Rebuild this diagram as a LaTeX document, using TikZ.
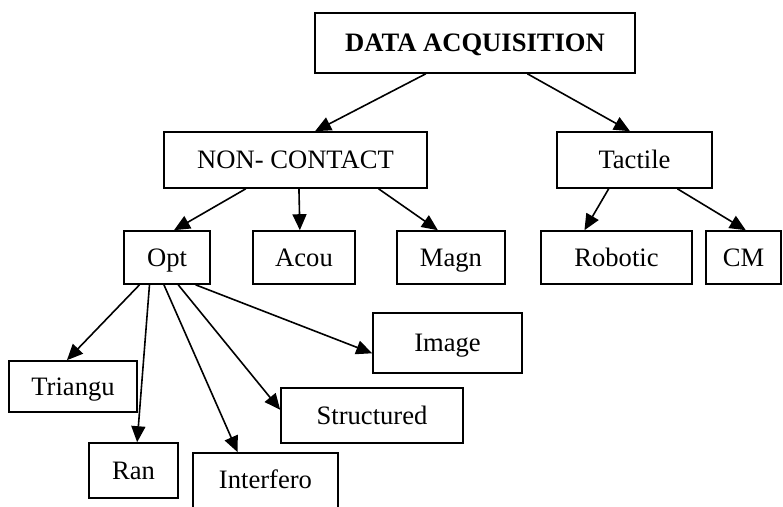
\documentclass[tikz,border=0pt]{standalone}
\usepackage{fontspec}
\setmainfont{Liberation Serif}
\usetikzlibrary{
  positioning,
  calc,
  arrows.meta}
\tikzset{
  %% box : one method of acquisition
  box/.style={
    rectangle,
    draw=black,
    line width=1.6pt,
    minimum height=55pt,
    inner sep=0pt,
    text height=17.5pt,
    text depth=0pt,
    align=center
  },
  %% topbox : the root of the tree
  topbox/.style={
    box,
    minimum height=60pt,
    font=\bfseries
  },
  %% link : connection from parent to child
  link/.style={
    line width=1.6pt,
    -{Triangle[length=16pt, width=14pt]}
  }
}

\begin{document}
\begin{tikzpicture}
  [x=1pt,
  y=-1pt]
  \fontsize{26.6}{30}\selectfont

  \useasboundingbox (0, 0) rectangle (783, 506);
  \clip (0, 0) rectangle (783, 506);

  %% Top level
  \node (daq) [topbox, minimum width=320pt] at (475, 43) {%
    DATA ACQUISITION};

  %% Second level
  \node (noncontact) [box, minimum width=263pt, minimum height=56pt]
  at (295.5, 160) {NON- CONTACT};
  \node (tactile) [box, minimum width=155pt, minimum height=56pt]
  at (634.5, 160) {Tactile};

  %% Third level
  \node (opt) [box, minimum width=86pt, minimum height=53pt]
  at (167, 257.5) {Opt};
  \node (acou) [box, minimum width=102pt, minimum height=53pt]
  at (304, 257.5) {Acou};
  \node (magn) [box, minimum width=108pt, minimum height=53pt]
  at (451, 257.5) {Magn};
  \node (robotic) [box, minimum width=151pt, minimum height=53pt]
  at (616.5, 257.5) {Robotic};
  \node (cm) [box, minimum width=75pt, minimum height=53pt]
  at (743.5, 257.5) {CM};

  %% Optical methods
  \node (image) [box, minimum width=149pt, minimum height=60pt]
  at (447.5, 343) {Image};
  \node (triangu) [box, minimum width=128pt, minimum height=51pt]
  at (73, 386.5) {Triangu};
  \node (structured) [box, minimum width=182pt]
  at (372, 415.5) {Structured};
  \node (ran) [box, minimum width=89pt]
  at (133.5, 470.5) {Ran};
  %% runs off the bottom of the page
  \node (interfero) [box, minimum width=145pt, minimum height=62pt,
  text depth=8pt] at (265.5, 484) {Interfero};

  %% Connections
  \draw [link] ($(daq.south west)!0.347!(daq.south east)$) --
  ($(noncontact.north west)!0.574!(noncontact.north east)$);
  \draw [link] ($(daq.south west)!0.663!(daq.south east)$) --
  ($(tactile.north west)!0.471!(tactile.north east)$);

  \draw [link] ($(noncontact.south west)!0.312!(noncontact.south east)$) --
  ($(opt.north west)!0.58!(opt.north east)$);
  \draw [link] ($(noncontact.south west)!0.513!(noncontact.south east)$) --
  ($(acou.north west)!0.46!(acou.north east)$);
  \draw [link] ($(noncontact.south west)!0.814!(noncontact.south east)$) --
  ($(magn.north west)!0.38!(magn.north east)$);

  \draw [link] ($(tactile.south west)!0.335!(tactile.south east)$) --
  ($(robotic.north west)!0.29!(robotic.north east)$);
  \draw [link] ($(tactile.south west)!0.774!(tactile.south east)$) --
  ($(cm.north west)!0.53!(cm.north east)$);

  %% Fan out of Opt
  \draw [link] ($(opt.south west)!0.186!(opt.south east)$) --
  ($(triangu.north west)!0.453!(triangu.north east)$);
  \draw [link] ($(opt.south west)!0.3!(opt.south east)$) --
  ($(ran.north west)!0.54!(ran.north east)$);
  \draw [link] ($(opt.south west)!0.465!(opt.south east)$) --
  ($(interfero.north west)!0.31!(interfero.north east)$);
  \draw [link] ($(opt.south west)!0.628!(opt.south east)$) --
  ($(structured.north west)!0.4!(structured.south west)$);
  \draw [link] ($(opt.south west)!0.826!(opt.south east)$) --
  ($(image.north west)!0.667!(image.south west)$);

\end{tikzpicture}
\end{document}
